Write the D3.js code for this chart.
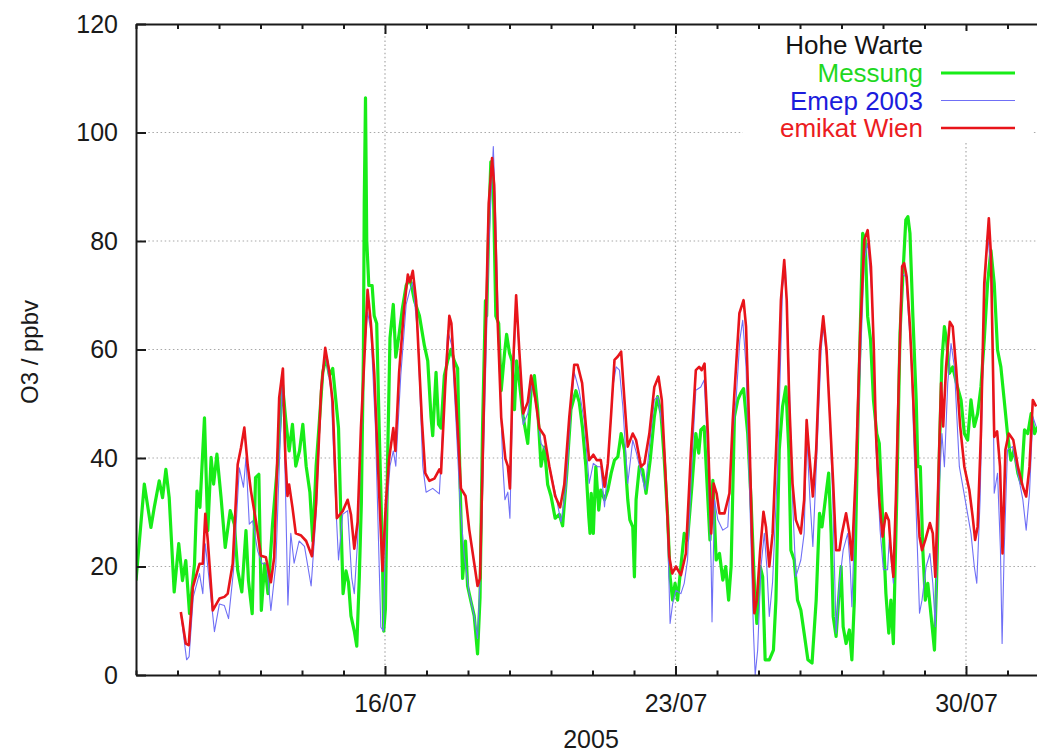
<!DOCTYPE html>
<html>
<head>
<meta charset="utf-8">
<script src="https://cdn.jsdelivr.net/npm/d3@7"></script>
<style>
  html, body { margin: 0; padding: 0; background: #fff; }
  svg { display: block; }
  text { font-family: "Liberation Sans", Arial, Helvetica, sans-serif; }
</style>
</head>
<body>
<script>
// ---- DATA (time = day of July 2005 with fraction, value = O3 ppbv) ----
const xStartDay = 10;          // 10/07/2005 00:00
const xEndDay = 32;            // 01/08/2005 00:00
const yTicks = [0, 20, 40, 60, 80, 100, 120];
const majorTickDays = [16, 23, 30];
const legendTitle = "Hohe Warte";
const seriesNames = ["Messung", "Emep 2003", "emikat Wien"];
const xLabel = "2005";
const yLabel = "O3 / ppbv";

const messung = [
[10.00,17.4],[10.20,35.2],[10.36,27.2],[10.44,30.9],[10.56,35.8],[10.64,32.7],[10.72,37.9],[10.80,32.7],
[10.92,15.3],[11.03,24.2],[11.12,17.4],[11.20,21.1],[11.29,11.3],[11.41,20.5],[11.47,33.9],[11.54,30.9],
[11.65,47.4],[11.73,26.6],[11.81,40.1],[11.87,35.2],[11.95,40.7],[12.05,32.7],[12.15,23.5],[12.27,30.3],
[12.37,27.8],[12.45,19.3],[12.55,15.3],[12.65,26.6],[12.71,17.4],[12.80,11.3],[12.88,36.4],[12.96,37.0],
[13.02,11.9],[13.10,20.5],[13.18,15.0],[13.29,27.8],[13.41,38.8],[13.53,53.5],[13.61,46.9],[13.69,41.3],
[13.77,46.2],[13.85,38.5],[13.94,41.3],[14.02,46.2],[14.10,38.5],[14.19,33.7],[14.26,24.7],[14.34,38.5],
[14.42,46.9],[14.50,55.8],[14.58,58.6],[14.66,55.2],[14.74,56.5],[14.82,50.3],[14.88,45.5],[14.94,28.2],
[14.99,15.0],[15.06,19.2],[15.12,17.1],[15.18,10.9],[15.26,8.1],[15.32,5.3],[15.38,17.8],[15.43,31.6],
[15.48,59.3],[15.50,87.0],[15.53,106.4],[15.56,80.1],[15.61,71.8],[15.69,71.8],[15.74,66.2],[15.80,64.8],
[15.86,45.5],[15.93,24.7],[15.97,8.1],[16.01,12.2],[16.06,38.5],[16.12,62.1],[16.20,68.3],[16.26,58.6],
[16.34,62.8],[16.42,67.6],[16.51,71.8],[16.60,73.2],[16.71,69.0],[16.83,66.2],[16.95,60.7],[17.03,57.9],
[17.11,47.5],[17.15,44.1],[17.23,55.8],[17.29,46.2],[17.35,45.5],[17.43,55.2],[17.51,57.9],[17.59,60.0],
[17.67,57.9],[17.75,56.5],[17.81,35.1],[17.87,17.8],[17.94,24.7],[17.99,16.4],[18.07,13.6],[18.15,10.9],
[18.23,3.9],[18.29,14.3],[18.35,45.5],[18.42,69.0],[18.45,66.2],[18.50,82.8],[18.55,94.6],[18.61,90.4],
[18.67,66.2],[18.74,64.8],[18.80,52.4],[18.88,59.3],[18.93,62.8],[19.00,59.3],[19.06,57.9],[19.12,48.9],
[19.17,57.9],[19.24,53.8],[19.33,47.5],[19.44,42.7],[19.52,52.4],[19.60,55.2],[19.68,48.9],[19.76,38.5],
[19.84,42.0],[19.92,35.1],[20.00,33.0],[20.10,28.9],[20.20,29.6],[20.28,27.5],[20.38,37.2],[20.48,48.9],
[20.60,52.4],[20.68,50.3],[20.76,45.5],[20.84,38.5],[20.91,29.2],[20.94,26.1],[20.97,33.5],[21.02,26.1],
[21.08,38.4],[21.15,30.4],[21.20,34.1],[21.29,32.3],[21.37,34.1],[21.45,37.2],[21.53,39.6],[21.61,40.2],
[21.69,44.5],[21.77,41.5],[21.85,32.3],[21.90,28.6],[21.97,27.3],[22.01,18.1],[22.05,32.3],[22.13,38.4],
[22.21,37.8],[22.29,33.5],[22.39,39.6],[22.49,47.6],[22.57,51.3],[22.65,48.2],[22.73,39.6],[22.81,29.2],
[22.87,18.1],[22.93,13.8],[22.99,16.9],[23.05,13.8],[23.13,20.0],[23.21,26.1],[23.29,24.9],[23.40,35.3],
[23.49,44.5],[23.56,40.9],[23.61,45.2],[23.69,45.8],[23.78,32.3],[23.83,24.9],[23.90,35.9],[23.98,21.2],
[24.06,22.4],[24.14,17.5],[24.21,20.0],[24.28,13.8],[24.34,20.0],[24.42,47.6],[24.50,50.7],[24.57,51.9],
[24.64,52.8],[24.74,44.5],[24.82,32.3],[24.90,16.9],[24.96,9.5],[25.04,20.0],[25.10,18.1],[25.16,2.8],
[25.26,2.8],[25.36,4.6],[25.42,13.8],[25.50,41.5],[25.58,49.5],[25.66,53.1],[25.73,41.5],[25.78,23.0],
[25.86,21.2],[25.94,13.8],[26.02,12.0],[26.10,7.7],[26.19,2.8],[26.29,2.2],[26.39,13.8],[26.47,29.8],
[26.53,27.3],[26.61,32.3],[26.69,37.2],[26.75,26.1],[26.80,10.8],[26.87,7.1],[26.93,13.8],[26.99,20.0],
[27.04,8.9],[27.11,5.8],[27.19,8.3],[27.25,2.8],[27.31,13.8],[27.39,44.5],[27.45,63.0],[27.51,81.4],
[27.57,80.2],[27.63,66.1],[27.70,61.8],[27.77,50.7],[27.85,44.5],[27.91,42.7],[27.99,29.2],[28.07,15.0],
[28.14,7.7],[28.19,13.8],[28.25,5.8],[28.33,32.3],[28.41,63.0],[28.49,75.3],[28.55,83.9],[28.60,84.5],
[28.65,81.4],[28.72,66.1],[28.80,50.7],[28.84,38.4],[28.90,38.4],[28.96,23.0],[29.02,13.8],[29.08,16.9],
[29.16,10.8],[29.24,4.6],[29.29,16.9],[29.36,41.5],[29.42,58.1],[29.48,64.2],[29.53,61.8],[29.60,55.6],
[29.68,56.8],[29.77,53.8],[29.88,50.7],[29.96,44.5],[30.04,43.3],[30.12,50.7],[30.20,45.8],[30.28,48.2],
[30.36,53.1],[30.44,61.8],[30.52,72.2],[30.60,78.3],[30.68,72.2],[30.76,59.9],[30.84,56.8],[30.92,50.7],
[31.00,44.5],[31.08,39.6],[31.16,41.5],[31.25,37.2],[31.33,35.3],[31.41,45.2],[31.49,44.5],[31.57,48.2],
[31.65,44.5],[31.72,45.8]
];

const emep = [
[11.08,11.3],[11.22,2.8],[11.28,3.4],[11.38,14.4],[11.53,18.7],[11.61,15.0],[11.67,24.2],[11.73,19.9],
[11.89,8.0],[12.01,13.1],[12.13,12.8],[12.23,10.4],[12.35,19.3],[12.49,38.2],[12.59,34.6],[12.65,40.1],
[12.73,27.8],[12.81,28.4],[12.93,22.9],[13.04,20.5],[13.15,20.5],[13.25,11.9],[13.37,20.5],[13.53,55.4],
[13.60,35.0],[13.66,12.9],[13.73,26.1],[13.81,20.6],[13.93,24.7],[14.06,23.7],[14.22,16.4],[14.34,29.6],
[14.46,51.7],[14.56,59.3],[14.70,52.4],[14.82,30.5],[14.88,21.2],[14.98,29.6],[15.10,30.3],[15.20,17.8],
[15.26,15.0],[15.34,24.7],[15.42,41.8],[15.50,59.3],[15.58,66.9],[15.66,63.5],[15.77,45.5],[15.90,8.8],
[15.96,8.1],[16.02,28.2],[16.12,38.5],[16.20,41.3],[16.26,38.5],[16.38,55.2],[16.51,68.3],[16.60,71.0],
[16.67,72.4],[16.79,62.6],[16.91,38.5],[16.99,33.7],[17.15,34.4],[17.31,33.4],[17.39,45.5],[17.51,63.5],
[17.61,60.7],[17.71,46.9],[17.81,31.6],[17.91,21.9],[18.03,15.0],[18.15,10.9],[18.23,6.7],[18.31,21.2],
[18.39,45.5],[18.50,78.7],[18.61,97.4],[18.67,83.5],[18.76,55.8],[18.84,38.5],[18.89,32.3],[18.96,33.7],
[19.01,28.9],[19.08,52.4],[19.16,68.3],[19.25,58.0],[19.33,46.2],[19.44,48.2],[19.54,53.8],[19.64,49.6],
[19.76,42.7],[19.88,41.3],[20.00,37.2],[20.12,33.0],[20.24,28.2],[20.36,34.4],[20.48,48.9],[20.56,55.8],
[20.68,52.4],[20.80,46.9],[20.92,35.3],[21.02,39.0],[21.12,38.4],[21.20,38.4],[21.29,31.0],[21.37,38.4],
[21.49,53.1],[21.57,56.8],[21.65,56.2],[21.73,49.5],[21.85,35.3],[21.97,43.3],[22.06,40.9],[22.17,37.2],
[22.27,34.1],[22.37,42.1],[22.49,50.7],[22.57,51.3],[22.69,45.8],[22.79,32.3],[22.87,9.5],[22.93,13.1],
[23.01,15.6],[23.13,15.0],[23.21,16.9],[23.29,21.2],[23.41,41.5],[23.49,52.5],[23.61,53.1],[23.69,54.4],
[23.78,40.9],[23.86,20.0],[23.88,9.8],[23.94,32.3],[24.02,28.6],[24.14,26.7],[24.26,27.3],[24.38,44.5],
[24.46,50.7],[24.55,61.8],[24.62,65.4],[24.70,56.8],[24.78,35.3],[24.88,7.7],[24.92,0.0],[24.98,4.6],
[25.06,20.0],[25.14,26.1],[25.20,20.0],[25.26,10.8],[25.34,17.2],[25.46,38.4],[25.58,71.6],[25.65,75.3],
[25.73,56.8],[25.82,32.3],[25.90,18.1],[26.02,21.2],[26.10,26.1],[26.16,44.5],[26.24,32.3],[26.31,23.7],
[26.40,39.6],[26.51,59.9],[26.56,64.2],[26.67,56.8],[26.79,32.3],[26.87,7.7],[26.95,16.9],[27.04,23.0],
[27.15,26.1],[27.21,20.0],[27.25,12.6],[27.35,35.3],[27.45,56.8],[27.55,76.5],[27.63,79.6],[27.74,69.7],
[27.83,42.1],[27.93,26.7],[28.01,19.4],[28.11,19.4],[28.15,24.9],[28.25,16.9],[28.35,44.5],[28.47,74.0],
[28.55,73.4],[28.67,59.9],[28.79,32.3],[28.88,11.4],[28.94,13.8],[29.04,20.0],[29.13,22.4],[29.20,16.9],
[29.26,8.9],[29.34,32.3],[29.42,44.5],[29.48,38.4],[29.56,53.8],[29.64,61.1],[29.72,56.8],[29.84,38.4],
[29.98,32.3],[30.12,26.1],[30.20,20.0],[30.26,16.9],[30.34,32.3],[30.44,69.1],[30.52,81.4],[30.63,72.2],
[30.68,33.5],[30.76,37.2],[30.83,23.0],[30.87,5.8],[30.92,23.0],[31.00,41.5],[31.12,42.1],[31.25,37.2],
[31.37,32.3],[31.45,26.7],[31.53,33.5],[31.61,47.6],[31.69,45.8]
];

const emikat = [
[11.08,11.6],[11.20,5.8],[11.27,5.5],[11.37,16.2],[11.53,20.5],[11.61,20.5],[11.67,29.7],[11.73,24.8],
[11.85,11.9],[12.01,14.1],[12.13,14.4],[12.21,15.0],[12.33,20.5],[12.45,38.8],[12.53,41.9],[12.61,45.6],
[12.69,38.8],[12.77,33.9],[12.89,28.4],[13.01,22.0],[13.13,21.7],[13.25,17.1],[13.33,21.7],[13.45,51.1],
[13.54,56.5],[13.60,40.0],[13.65,33.0],[13.69,35.1],[13.77,30.9],[13.85,26.1],[13.98,25.7],[14.10,24.7],
[14.24,21.9],[14.34,31.6],[14.46,52.4],[14.56,60.3],[14.66,55.8],[14.74,50.3],[14.84,28.9],[14.98,30.2],
[15.10,32.3],[15.18,29.6],[15.26,23.3],[15.34,28.2],[15.42,45.5],[15.50,57.9],[15.58,71.0],[15.66,64.8],
[15.74,55.8],[15.85,35.1],[15.94,19.2],[16.02,31.6],[16.10,39.9],[16.20,45.5],[16.25,41.3],[16.34,55.8],
[16.46,67.6],[16.55,73.8],[16.60,72.4],[16.67,74.5],[16.75,69.0],[16.81,59.3],[16.89,46.9],[16.97,37.2],
[17.07,35.8],[17.19,36.2],[17.31,37.9],[17.35,37.2],[17.45,53.1],[17.55,66.2],[17.60,64.8],[17.67,55.8],
[17.75,45.5],[17.83,34.4],[17.94,33.0],[18.03,26.8],[18.15,20.6],[18.23,16.4],[18.29,17.8],[18.39,52.4],
[18.50,87.0],[18.58,95.3],[18.63,90.4],[18.71,66.2],[18.80,47.5],[18.90,39.9],[18.96,38.5],[19.01,34.4],
[19.08,55.8],[19.16,70.0],[19.24,59.3],[19.33,48.2],[19.44,50.3],[19.52,55.2],[19.62,51.0],[19.72,45.5],
[19.84,44.1],[19.96,38.5],[20.10,33.0],[20.22,30.9],[20.32,35.1],[20.44,47.5],[20.56,57.2],[20.64,57.2],
[20.75,53.8],[20.84,46.0],[20.92,39.6],[21.02,40.6],[21.10,39.6],[21.20,39.6],[21.29,34.7],[21.37,39.0],
[21.45,48.2],[21.53,58.1],[21.61,58.7],[21.69,59.6],[21.77,50.7],[21.85,42.1],[21.97,44.5],[22.05,43.3],
[22.17,38.4],[22.25,39.0],[22.37,44.5],[22.49,53.1],[22.59,55.0],[22.67,50.7],[22.77,35.3],[22.85,21.8],
[22.92,18.7],[23.01,20.0],[23.13,18.4],[23.25,22.4],[23.37,40.9],[23.49,56.2],[23.57,56.8],[23.63,56.2],
[23.70,57.4],[23.78,44.5],[23.86,26.1],[23.92,35.3],[23.99,33.5],[24.06,29.8],[24.18,29.8],[24.30,33.5],
[24.38,47.0],[24.46,57.0],[24.54,66.7],[24.64,69.1],[24.70,64.2],[24.78,44.5],[24.84,26.1],[24.90,11.4],
[24.96,13.8],[25.04,23.0],[25.12,30.1],[25.18,27.3],[25.26,20.0],[25.34,26.1],[25.44,44.5],[25.54,69.1],
[25.62,76.5],[25.68,69.1],[25.74,50.7],[25.82,35.3],[25.90,28.6],[26.02,26.1],[26.10,32.3],[26.16,47.0],
[26.22,40.9],[26.31,32.9],[26.39,41.5],[26.48,59.9],[26.56,66.1],[26.64,59.9],[26.72,47.6],[26.80,35.3],
[26.87,23.0],[26.95,23.0],[27.01,26.1],[27.11,29.8],[27.19,26.1],[27.25,21.2],[27.35,38.4],[27.45,63.0],
[27.55,80.2],[27.63,82.0],[27.71,75.3],[27.78,59.9],[27.83,44.5],[27.91,32.3],[27.99,25.5],[28.07,29.8],
[28.14,28.5],[28.19,23.0],[28.25,18.1],[28.31,32.3],[28.39,56.8],[28.46,75.3],[28.51,75.9],[28.57,73.4],
[28.65,64.2],[28.73,50.7],[28.81,35.3],[28.88,25.5],[28.94,23.0],[29.02,24.9],[29.13,28.0],[29.20,26.1],
[29.26,18.1],[29.32,32.3],[29.40,53.8],[29.45,45.8],[29.52,56.8],[29.61,65.1],[29.68,64.2],[29.76,56.8],
[29.86,45.8],[29.96,38.4],[30.08,34.1],[30.16,29.2],[30.22,24.9],[30.28,27.3],[30.36,44.5],[30.44,72.2],
[30.55,84.2],[30.60,77.7],[30.68,43.9],[30.75,44.9],[30.82,38.4],[30.88,22.4],[30.95,41.5],[31.03,44.5],
[31.14,43.3],[31.25,38.4],[31.37,34.7],[31.45,32.9],[31.53,38.4],[31.61,50.7],[31.69,49.5]
];

// ---- LAYOUT ----
const W = 1037, H = 755;
const margin = { left: 136, top: 24 };
const plotRight = 1049;          // plot continues past the image edge (cropped)
const plotBottom = 675;

const dayToDate = d => new Date(Date.UTC(2005, 6, 1) + (d - 1) * 86400000);

const x = d3.scaleUtc()
  .domain([dayToDate(xStartDay), dayToDate(xEndDay)])
  .range([margin.left, plotRight]);
const y = d3.scaleLinear().domain([0, 120]).range([plotBottom, margin.top]);

const svg = d3.select("body").append("svg")
  .attr("width", W).attr("height", H)
  .style("overflow", "hidden");

const majorDates = majorTickDays.map(dayToDate);
const allDays = d3.utcDay.range(dayToDate(xStartDay), dayToDate(xEndDay + 0.01));
const minorDates = allDays.filter(d => !majorDates.some(m => +m === +d));

// grid
const grid = svg.append("g").attr("stroke", "#a8a8a8").attr("stroke-width", 1.2)
  .attr("stroke-dasharray", "1.5,2.6").attr("fill", "none");
grid.selectAll("line.h").data(yTicks.filter(v => v > 0 && v < 120)).join("line")
  .attr("class", "h")
  .attr("x1", margin.left).attr("x2", plotRight)
  .attr("y1", d => y(d)).attr("y2", d => y(d));
grid.selectAll("line.v").data(majorDates).join("line")
  .attr("class", "v")
  .attr("x1", d => x(d)).attr("x2", d => x(d))
  .attr("y1", margin.top).attr("y2", plotBottom);

// series
const line = d3.line().x(d => x(dayToDate(d[0]))).y(d => y(d[1]));
svg.append("defs").append("clipPath").attr("id", "clip")
  .append("rect").attr("x", margin.left).attr("y", margin.top)
  .attr("width", plotRight - margin.left).attr("height", plotBottom - margin.top);

const series = [
  { data: messung, color: "#18ec18", width: 3.2, text: "#1fd81f" },
  { data: emep, color: "#6f6ff6", width: 1.1, text: "#1c1cdc" },
  { data: emikat, color: "#e8141a", width: 2.6, text: "#ec1c22" }
];
const plotG = svg.append("g").attr("clip-path", "url(#clip)");
series.forEach(s => {
  plotG.append("path").datum(s.data)
    .attr("fill", "none").attr("stroke", s.color)
    .attr("stroke-width", s.width).attr("stroke-linejoin", "round")
    .attr("d", line);
});

// axes
const axisStyle = g => {
  g.select(".domain").attr("stroke", "#1a1a1a").attr("stroke-width", 2);
  g.selectAll(".tick line").attr("stroke", "#1a1a1a").attr("stroke-width", 2);
  g.selectAll(".tick text").attr("fill", "#1a1a1a").style("font-size", "25px")
    .style("font-family", '"Liberation Sans", Arial, sans-serif');
};

// bottom: minor daily ticks
svg.append("g").attr("transform", `translate(0,${plotBottom})`)
  .call(d3.axisBottom(x).tickValues(minorDates).tickSizeInner(-4.5).tickSizeOuter(0).tickFormat(""))
  .call(axisStyle);
// bottom: major labelled ticks
svg.append("g").attr("transform", `translate(0,${plotBottom})`)
  .call(d3.axisBottom(x).tickValues(majorDates).tickSizeInner(-9).tickSizeOuter(0)
    .tickPadding(19).tickFormat(d3.utcFormat("%d/%m")))
  .call(axisStyle)
  .call(g => g.select(".domain").remove());

// top mirrored ticks
svg.append("g").attr("transform", `translate(0,${margin.top})`)
  .call(d3.axisTop(x).tickValues(minorDates).tickSizeInner(-5).tickSizeOuter(0).tickFormat(""))
  .call(axisStyle);
svg.append("g").attr("transform", `translate(0,${margin.top})`)
  .call(d3.axisTop(x).tickValues(majorDates).tickSizeInner(-10).tickSizeOuter(0).tickFormat(""))
  .call(axisStyle)
  .call(g => g.select(".domain").remove());

// left axis
svg.append("g").attr("transform", `translate(${margin.left},0)`)
  .call(d3.axisLeft(y).tickValues(yTicks).tickSizeInner(-10).tickSizeOuter(0).tickPadding(18))
  .call(axisStyle);

// axis titles
svg.append("text").attr("x", 591).attr("y", 748)
  .attr("text-anchor", "middle").attr("fill", "#1a1a1a").style("font-size", "25px")
  .text(xLabel);
svg.append("text").attr("transform", "translate(38,352) rotate(-90)")
  .attr("text-anchor", "middle").attr("fill", "#1a1a1a").style("font-size", "24px")
  .text(yLabel);

// legend
const lg = svg.append("g");
lg.append("rect").attr("x", 743).attr("y", 31).attr("width", 289).attr("height", 112).attr("fill", "#fff");
lg.append("text").attr("x", 923).attr("y", 54).attr("text-anchor", "end")
  .attr("fill", "#141414").style("font-size", "26px").text(legendTitle);
const legendBase = [82, 109.5, 137];
series.forEach((s, i) => {
  lg.append("text").attr("x", 923).attr("y", legendBase[i]).attr("text-anchor", "end")
    .attr("fill", s.text).style("font-size", "26px").text(seriesNames[i]);
  lg.append("line").attr("x1", 941).attr("x2", 1015)
    .attr("y1", legendBase[i] - 9).attr("y2", legendBase[i] - 9)
    .attr("stroke", s.color).attr("stroke-width", s.width);
});
</script>
</body>
</html>
